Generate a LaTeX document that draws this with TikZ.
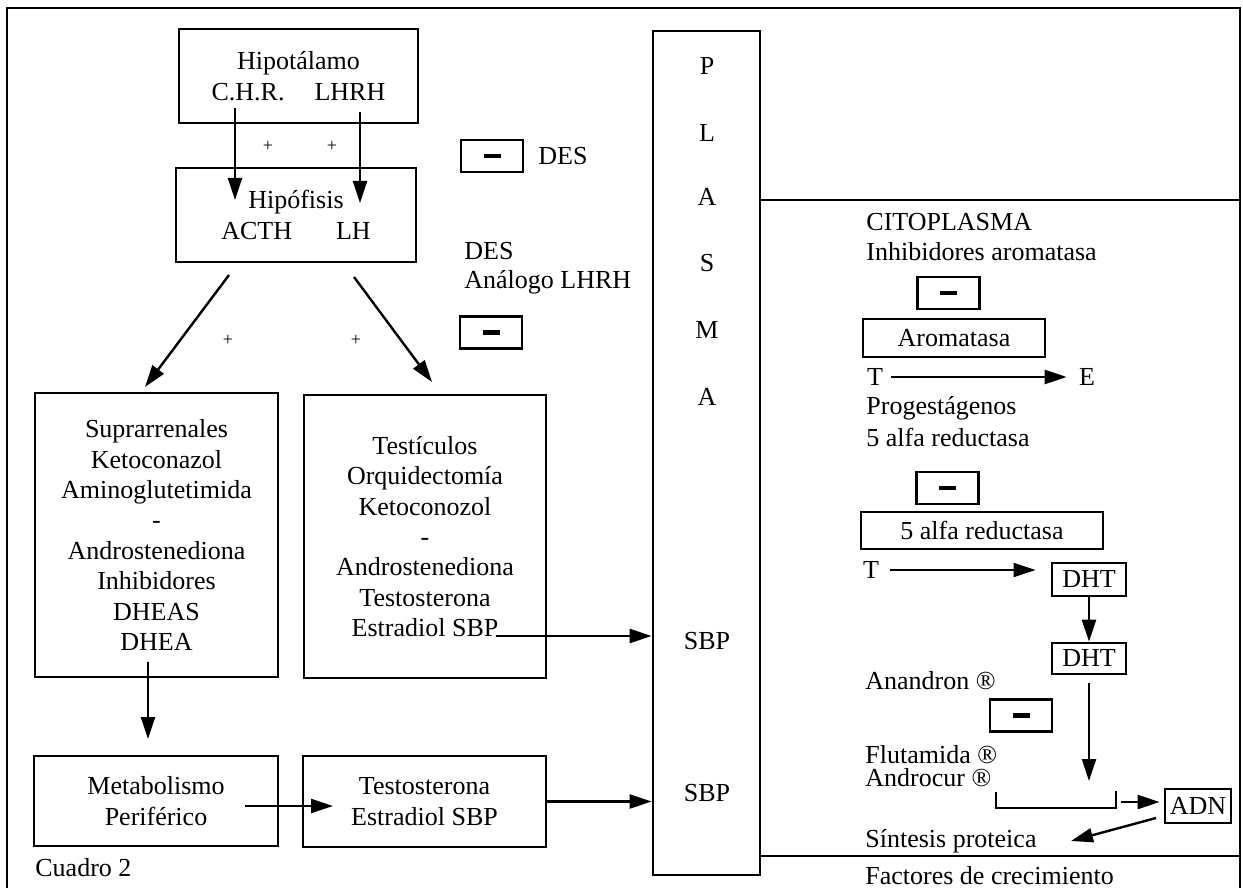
\documentclass[tikz,border=0pt]{standalone}
\usepackage{fontspec}
\setmainfont{Liberation Serif}
\usetikzlibrary{arrows.meta}

\tikzset{
  caja/.style={draw, line width=1.4pt, inner sep=0pt, align=center},
  menos/.style={draw, line width=1.4pt, minimum width=31pt, minimum height=16pt, inner sep=0pt},
  flecha/.style={-{Triangle[length=11pt,width=7pt]}, line width=1.2pt},
  texto/.style={inner sep=0pt, anchor=west},
  mas/.style={inner sep=0pt, font=\fontsize{9}{10}\selectfont},
}
\newcommand{\barra}{\rule{8.5pt}{2.4pt}}

\begin{document}
\begin{tikzpicture}[x=0.5pt, y=-0.5pt, font=\fontsize{13}{15.2}\selectfont]
\useasboundingbox (0,0) rectangle (1243,888);

% marco
\draw [line width=1.1pt] (7,888) -- (7,8) -- (1240,8) -- (1240,888);

% eje hipotalamo - hipofisis
\node (hipot) [caja, minimum width=119.5pt, minimum height=47pt] at (298.5,76) {Hipotálamo\\C.H.R.\hspace{15pt}LHRH};
\node (hipof) [caja, minimum width=120pt, minimum height=47pt] at (296,215) {Hipófisis\\ACTH\hspace{22pt}LH};
\foreach \x/\y in {268/146, 332/146, 228/340, 356/340}
  \node (mas\x) [mas] at (\x,\y) {+};

\node (m1) [menos] at (492,156) {\barra};
\node (des1) [texto] at (538,156) {DES};
\node (des2) [texto] at (464,251) {DES};
\node (analogo) [texto] at (464,282) {Análogo LHRH};
\node (m2) [menos] at (491,332.5) {\barra};

% glandulas
\node (supra) [caja, minimum width=121.5pt, minimum height=142pt] at (156.5,535)
  {Suprarrenales\\Ketoconazol\\Aminoglutetimida\\-\\Androstenediona\\Inhibidores\\DHEAS\\DHEA};
\node (testic) [caja, minimum width=121pt, minimum height=141.5pt] at (425,536.5)
  {Testículos\\Orquidectomía\\Ketoconozol\\-\\Androstenediona\\Testosterona\\Estradiol SBP};
\node (metab) [caja, minimum width=122pt, minimum height=45pt] at (156,801) {Metabolismo\\Periférico};
\node (testo) [caja, minimum width=121.5pt, minimum height=45.5pt] at (424.5,801.5) {Testosterona\\Estradiol SBP};
\node (cuadro) [texto] at (35,868) {Cuadro 2};

% plasma
\node (plasma) [caja, minimum width=53.5pt, minimum height=422pt] at (706.5,453) {};
\foreach \l/\y in {P/66, L/133, A/197, S/263, M/330, A/397}
  \node (letra\y) at (707,\y) {\l};
\node (sbp1) at (707,641) {SBP};
\node (sbp2) at (707,793) {SBP};

% citoplasma
\draw [line width=1.1pt] (plasma.east |- 0,200) -- (1240,200);
\draw [line width=1.1pt] (plasma.east |- 0,856) -- (1240,856);
\node (cito) [texto] at (866,222) {CITOPLASMA};
\node (inhib) [texto] at (866,252) {Inhibidores aromatasa};
\node (m3) [menos] at (948.5,293) {\barra};
\node (aroma) [caja, minimum width=91pt, minimum height=19pt] at (954,338) {Aromatasa};
\node (t1) [inner sep=0pt] at (875,377) {T};
\node (e1) [inner sep=0pt] at (1087,377) {E};
\node (progest) [texto] at (866,408) {Progestágenos};
\node (alfa) [texto] at (866,437) {5 alfa reductasa};
\node (m4) [menos] at (947.5,488) {\barra};
\node (reduc) [caja, minimum width=121pt, minimum height=18.5pt] at (982,530.5) {5 alfa reductasa};
\node (t2) [inner sep=0pt] at (871,570) {T};
\node (dht1) [caja, minimum width=37pt, minimum height=16.5pt] at (1089,579.5) {DHT};
\node (dht2) [caja, minimum width=37pt, minimum height=15.5pt] at (1089,658.5) {DHT};
\node (anandron) [texto] at (865,681) {Anandron ®};
\node (m5) [menos] at (1021,715.5) {\barra};
\node (fluta) [texto, align=left, font=\fontsize{13}{11.5}\selectfont] at (865,766) {Flutamida ®\\Androcur ®};
\node (adn) [caja, minimum width=33pt, minimum height=17pt] at (1198,806) {ADN};
\node (sintesis) [texto] at (865,841) {Síntesis proteica};
\node (factores) [texto] at (865,876) {Factores de crecimiento};

% puntos libres de las flechas
\coordinate (chr) at (235,108);
\coordinate (chr-f) at (235,200);
\coordinate (lh) at (360,112);
\coordinate (lh-f) at (360,203);
\coordinate (acth) at (229,275);
\coordinate (acth-f) at (145,387);
\coordinate (lhd) at (354,277);
\coordinate (lhd-f) at (432,382);
\coordinate (dhea) at (148,662);
\coordinate (dhea-f) at (148,739);
\coordinate (perif) at (245,806);
\coordinate (perif-f) at (333,806);
\coordinate (estr) at (496,636);
\coordinate (rec) at (1089,781);
\coordinate (rec-a) at (996,792);
\coordinate (rec-b) at (1116,791);
\coordinate (rec-s) at (1121,802);
\coordinate (adn-s) at (1156,818);
\coordinate (sint-f) at (1071,841);

% flechas
\draw [flecha] (chr) -- (chr-f);
\draw [flecha] (lh) -- (lh-f);
\draw [flecha] (acth) -- (acth-f);
\draw [flecha] (lhd) -- (lhd-f);
\draw [flecha] (dhea) -- (dhea-f);
\draw [flecha] (perif) -- (perif-f);
\draw [flecha] (estr) -- (estr -| plasma.west);
\draw [flecha] (testo.east) -- (testo.east -| plasma.west);
\draw [flecha, shorten <=3.75pt, shorten >=6pt] (t1) -- (e1);
\draw [flecha, line width=0.9pt, shorten <=5.5pt, shorten >=7.5pt] (t2.east) -- (t2.east -| dht1.west);
\draw [flecha] (dht1) -- (dht2);
\draw [flecha, shorten <=4pt] (dht2) -- (rec);
\draw [line width=0.9pt] (rec-a) -- (rec-a |- 0,808) -- (rec-b |- 0,808) -- (rec-b);
\draw [flecha, shorten >=2pt] (rec-s) -- (rec-s -| adn.west);
\draw [flecha] (adn-s) -- (sint-f);
\end{tikzpicture}
\end{document}
